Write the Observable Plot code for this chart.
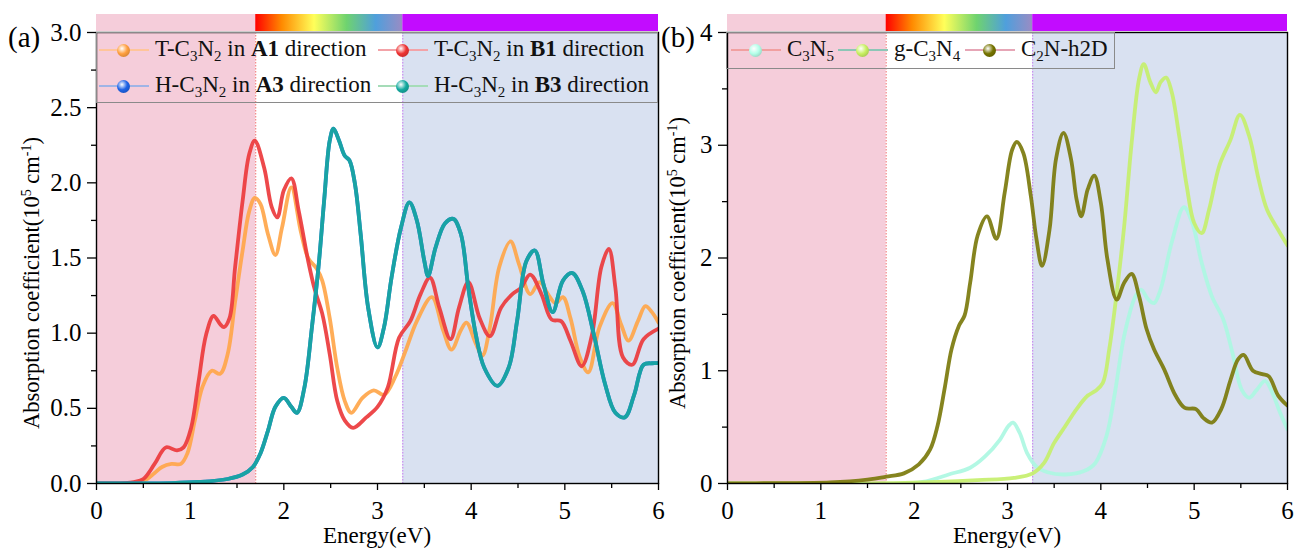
<!DOCTYPE html>
<html><head><meta charset="utf-8">
<script src="https://cdn.jsdelivr.net/npm/d3@7"></script>
<script src="https://cdn.jsdelivr.net/npm/@observablehq/plot@0.6"></script>
<style>
body{margin:0;background:#fff;font-family:"Liberation Serif","Times New Roman",serif;}
#wrap{position:relative;width:1295px;height:549px;overflow:hidden;background:#fff;}
.panel{position:absolute;top:0;}
.legend{position:absolute;border:1px solid #8a8a8a;box-sizing:border-box;}
.lline{position:absolute;height:1.5px;}
.ball{position:absolute;width:13px;height:13px;border-radius:50%;}
.ltext{position:absolute;font-size:23px;white-space:nowrap;line-height:23px;color:#111;font-family:"Liberation Serif","Times New Roman",serif;}
.ltext sub{font-size:15px;vertical-align:-5px;line-height:0;}
</style></head><body><div id="wrap"></div>
<script>
// ---------- data ----------
const energyTicks = [0, 1, 2, 3, 4, 5, 6];
const energyMinor = [0.5, 1.5, 2.5, 3.5, 4.5, 5.5];
const ticksA = [0, 0.5, 1, 1.5, 2, 2.5, 3];
const minorA = [0.25, 0.75, 1.25, 1.75, 2.25, 2.75];
const ticksB = [0, 1, 2, 3, 4];
const minorB = [0.5, 1.5, 2.5, 3.5];
const visibleRange = [1.7, 3.27];   // eV limits of visible light

// panel (a) : [energy eV, absorption 1e5 cm^-1]
const tA1 = [[0,0],[0.3,0.002],[0.45,0.01],[0.54,0.03],[0.62,0.07],[0.7,0.11],[0.8,0.13],[0.9,0.13],[0.97,0.2],[1.05,0.42],[1.13,0.64],[1.23,0.75],[1.32,0.73],[1.4,0.86],[1.48,1.21],[1.56,1.55],[1.63,1.81],[1.69,1.90],[1.75,1.86],[1.83,1.66],[1.91,1.52],[1.98,1.70],[2.08,1.97],[2.18,1.68],[2.26,1.50],[2.35,1.43],[2.41,1.35],[2.49,1.10],[2.57,0.77],[2.65,0.55],[2.72,0.47],[2.84,0.57],[2.96,0.62],[3.07,0.59],[3.19,0.71],[3.31,0.90],[3.42,1.08],[3.58,1.24],[3.70,1.02],[3.79,0.89],[3.89,1.02],[3.95,1.07],[4.05,0.93],[4.12,0.85],[4.20,1.04],[4.30,1.44],[4.42,1.61],[4.51,1.46],[4.63,1.26],[4.73,1.34],[4.82,1.26],[4.90,1.20],[4.98,1.24],[5.06,1.10],[5.16,0.84],[5.25,0.74],[5.37,1.04],[5.51,1.20],[5.60,1.06],[5.68,0.95],[5.78,1.08],[5.86,1.18],[5.93,1.14],[6.0,1.07]];
const tB1 = [[0,0],[0.3,0.003],[0.4,0.01],[0.5,0.03],[0.62,0.13],[0.74,0.24],[0.86,0.22],[0.93,0.24],[1.01,0.37],[1.09,0.68],[1.17,0.99],[1.25,1.115],[1.32,1.06],[1.36,1.04],[1.42,1.10],[1.48,1.44],[1.56,1.88],[1.63,2.19],[1.69,2.28],[1.79,2.10],[1.87,1.84],[1.93,1.77],[2.0,1.95],[2.08,2.03],[2.16,1.81],[2.26,1.48],[2.33,1.29],[2.41,1.13],[2.49,0.86],[2.57,0.55],[2.65,0.42],[2.74,0.37],[2.88,0.44],[3.0,0.51],[3.11,0.64],[3.23,0.97],[3.35,1.08],[3.46,1.26],[3.56,1.37],[3.66,1.17],[3.78,0.96],[3.87,1.17],[3.97,1.34],[4.09,1.10],[4.2,0.98],[4.32,1.17],[4.44,1.26],[4.53,1.30],[4.63,1.39],[4.75,1.26],[4.86,1.09],[4.96,1.08],[5.06,0.95],[5.18,0.78],[5.29,0.99],[5.39,1.44],[5.47,1.56],[5.54,1.30],[5.62,0.84],[5.72,0.79],[5.84,0.96],[6.0,1.03]];
const hB3 = [[0,0],[0.8,0.003],[1.09,0.01],[1.4,0.03],[1.56,0.06],[1.67,0.11],[1.75,0.20],[1.83,0.35],[1.91,0.51],[2.0,0.57],[2.08,0.51],[2.14,0.47],[2.22,0.64],[2.30,1.04],[2.37,1.44],[2.43,1.88],[2.49,2.28],[2.53,2.36],[2.59,2.28],[2.65,2.18],[2.70,2.15],[2.76,1.99],[2.82,1.66],[2.90,1.17],[3.0,0.905],[3.07,1.04],[3.15,1.37],[3.25,1.70],[3.34,1.87],[3.42,1.75],[3.50,1.48],[3.54,1.38],[3.62,1.57],[3.72,1.73],[3.81,1.76],[3.89,1.66],[3.97,1.30],[4.05,0.99],[4.14,0.77],[4.28,0.65],[4.40,0.77],[4.49,1.08],[4.59,1.48],[4.68,1.55],[4.77,1.33],[4.87,1.14],[4.98,1.35],[5.08,1.40],[5.19,1.28],[5.31,0.99],[5.43,0.66],[5.54,0.47],[5.64,0.44],[5.74,0.59],[5.84,0.79],[5.93,0.80],[6.0,0.80]];
const hA3 = hB3; // hidden beneath the B3 curve in the figure

// panel (b)
const c3n5 = [[0,0],[1.9,0.002],[2.13,0.02],[2.37,0.08],[2.6,0.14],[2.76,0.24],[2.92,0.39],[3.01,0.51],[3.06,0.54],[3.13,0.45],[3.21,0.27],[3.31,0.15],[3.43,0.10],[3.62,0.08],[3.82,0.11],[3.94,0.18],[4.06,0.42],[4.15,0.80],[4.25,1.31],[4.37,1.66],[4.43,1.72],[4.51,1.63],[4.57,1.60],[4.64,1.72],[4.76,2.14],[4.89,2.45],[4.98,2.31],[5.08,1.96],[5.19,1.66],[5.31,1.46],[5.41,1.16],[5.51,0.83],[5.59,0.76],[5.67,0.83],[5.76,0.91],[5.84,0.80],[5.92,0.63],[6.0,0.48]];
const gC3N4 = [[0,0],[1.5,0.002],[1.9,0.005],[2.68,0.03],[3.07,0.05],[3.27,0.09],[3.39,0.18],[3.5,0.36],[3.62,0.51],[3.74,0.66],[3.86,0.78],[3.94,0.82],[4.02,0.89],[4.09,1.19],[4.17,1.69],[4.25,2.28],[4.33,3.02],[4.41,3.59],[4.46,3.72],[4.53,3.56],[4.59,3.47],[4.64,3.56],[4.70,3.60],[4.76,3.47],[4.84,3.08],[4.92,2.64],[5.0,2.31],[5.08,2.22],[5.16,2.43],[5.27,2.82],[5.39,3.05],[5.49,3.27],[5.59,3.08],[5.69,2.70],[5.78,2.43],[5.90,2.25],[6.0,2.11]];
const c2nH2D = [[0,0],[0.5,0.003],[1.1,0.01],[1.5,0.035],[1.7,0.06],[1.89,0.09],[2.05,0.17],[2.17,0.30],[2.25,0.51],[2.33,0.86],[2.40,1.19],[2.48,1.40],[2.54,1.49],[2.60,1.78],[2.68,2.20],[2.78,2.37],[2.88,2.17],[2.97,2.58],[3.05,2.96],[3.10,3.03],[3.17,2.93],[3.25,2.55],[3.31,2.17],[3.37,1.93],[3.45,2.25],[3.52,2.88],[3.60,3.11],[3.68,2.88],[3.74,2.52],[3.79,2.37],[3.86,2.61],[3.93,2.73],[4.0,2.49],[4.07,1.99],[4.17,1.63],[4.25,1.78],[4.33,1.86],[4.41,1.66],[4.49,1.37],[4.57,1.19],[4.68,1.01],[4.80,0.78],[4.90,0.67],[5.02,0.66],[5.10,0.58],[5.19,0.54],[5.29,0.66],[5.39,0.92],[5.47,1.10],[5.53,1.14],[5.63,1.00],[5.73,0.97],[5.80,0.95],[5.90,0.78],[6.0,0.69]];

// ---------- styling ----------
const FONT = '"Liberation Serif", "Times New Roman", serif';
const PINK = "#f5cdda", BLUE = "#d9e1f1", PURPLE = "#c20cff";

const wrap = document.getElementById("wrap");

function buildPanel(cfg) {
  const [v1, v2] = visibleRange;
  const yMax = cfg.yDomain[1];
  const marks = [
    Plot.rect([0], {x1: 0, x2: v1, y1: 0, y2: yMax, fill: PINK}),
    Plot.rect([0], {x1: v2, x2: 6, y1: 0, y2: yMax, fill: BLUE}),
    Plot.ruleX([v1], {stroke: "#f07070", strokeWidth: 1, strokeDasharray: "1.5,1.5"}),
    Plot.ruleX([v2], {stroke: "#c77af0", strokeWidth: 1, strokeDasharray: "1.5,1.5"}),
  ];
  for (const s of cfg.series) {
    marks.push(Plot.line(s.data, {x: d => d[0], y: d => d[1], stroke: s.color, strokeWidth: 3.8, strokeOpacity: 0.92, curve: "catmull-rom", clip: true}));
  }
  marks.push(
    Plot.axisX(energyTicks, {tickSize: 7, tickPadding: 11, tickFormat: d => String(d), label: null, fontSize: 25, strokeWidth: 1.3}),
    Plot.axisX(energyMinor, {tickSize: 5, tickFormat: () => "", label: null, strokeWidth: 1.3}),
    Plot.axisY(cfg.yTicks, {tickSize: 9, tickPadding: 6, tickFormat: cfg.yFormat, label: null, fontSize: 25, strokeWidth: 1.3}),
    Plot.axisY(cfg.yMinor, {tickSize: 5, tickFormat: () => "", label: null, strokeWidth: 1.3}),
    Plot.frame({stroke: "#000", strokeWidth: 1.4})
  );
  const plot = Plot.plot({
    width: cfg.width, height: 549,
    marginTop: 32, marginBottom: 66, marginLeft: cfg.ml, marginRight: cfg.mr,
    style: {fontFamily: FONT, fontSize: "22px", color: "#000", background: "transparent", overflow: "visible"},
    x: {domain: [0, 6], label: null},
    y: {domain: cfg.yDomain, label: null},
    marks
  });
  const svg = d3.select(plot);
  const xs = plot.scale("x");
  const px = v => xs.apply(v);
  // spectrum strip above plot
  const defs = svg.append("defs");
  const grad = defs.append("linearGradient").attr("id", cfg.gradId).attr("x1", "0%").attr("x2", "100%");
  [["0%", "#ff0000"], ["18%", "#ff8a00"], ["40%", "#ffff5a"], ["62%", "#6fd36f"], ["82%", "#4f9fdc"], ["100%", "#9a8cc4"]]
    .forEach(([o, c]) => grad.append("stop").attr("offset", o).attr("stop-color", c));
  const top = 14, h = 17;
  svg.append("rect").attr("x", px(0)).attr("y", top).attr("width", px(v1) - px(0)).attr("height", h).attr("fill", PINK);
  svg.append("rect").attr("x", px(v1)).attr("y", top).attr("width", px(v2) - px(v1)).attr("height", h).attr("fill", `url(#${cfg.gradId})`);
  svg.append("rect").attr("x", px(v2)).attr("y", top).attr("width", px(6) - px(v2)).attr("height", h).attr("fill", PURPLE);
  // panel letter
  svg.append("text").attr("x", cfg.letterX).attr("y", 47).attr("text-anchor", "start").attr("font-size", 29).text(cfg.letter);
  // x label
  const cx = (cfg.ml + cfg.width - cfg.mr) / 2;
  svg.append("text").attr("x", cx).attr("y", 543).attr("text-anchor", "middle").attr("font-size", 23).text("Energy(eV)");
  // y label
  const yl = svg.append("text").attr("transform", `translate(${cfg.ylabelX},${cfg.ylabelY}) rotate(-90)`)
    .attr("text-anchor", "middle").attr("font-size", 22.5);
  yl.append("tspan").text("Absorption coefficient(10");
  yl.append("tspan").attr("dy", -8).attr("font-size", 14).text("5");
  yl.append("tspan").attr("dy", 8).text(" cm");
  yl.append("tspan").attr("dy", -8).attr("font-size", 14).text("-1");
  yl.append("tspan").attr("dy", 8).text(")");
  svg.attr("font-family", FONT);
  svg.selectAll("text").attr("font-family", FONT).attr("fill", "#000");
  const div = document.createElement("div");
  div.className = "panel";
  div.style.left = cfg.left + "px";
  div.appendChild(plot);
  wrap.appendChild(div);
}

buildPanel({
  left: 0, width: 660, ml: 96, mr: 2, yDomain: [0, 3], yTicks: ticksA, yMinor: minorA,
  yFormat: d3.format(".1f"), gradId: "specA", letter: "(a)", letterX: 8, ylabelX: 39, ylabelY: 283,
  series: [
    {data: tA1, color: "#ffa64a"},
    {data: tB1, color: "#ec3a3c"},
    {data: hA3, color: "#2166e0"},
    {data: hB3, color: "#17a79e"},
  ]
});
buildPanel({
  left: 660, width: 635, ml: 67, mr: 8, yDomain: [0, 4], yTicks: ticksB, yMinor: minorB,
  yFormat: d => String(d), gradId: "specB", letter: "(b)", letterX: 1, ylabelX: 25, ylabelY: 263,
  series: [
    {data: c3n5, color: "#adf7e2"},
    {data: gC3N4, color: "#c6ef6c"},
    {data: c2nH2D, color: "#7b7a0c"},
  ]
});

// ---------- legends ----------
function legend(box, items) {
  const lg = document.createElement("div");
  lg.className = "legend";
  Object.assign(lg.style, {left: box.left + "px", top: box.top + "px", width: box.width + "px", height: box.height + "px"});
  wrap.appendChild(lg);
  for (const it of items) {
    const line = document.createElement("div");
    line.className = "lline";
    Object.assign(line.style, {left: it.x + "px", top: (it.y - 1) + "px", width: "50px", background: it.line});
    wrap.appendChild(line);
    const ball = document.createElement("div");
    ball.className = "ball";
    Object.assign(ball.style, {left: (it.x + 18) + "px", top: (it.y - 6.5) + "px",
      background: `radial-gradient(circle at 38% 35%, #ffffff 0%, ${it.ball} 45%, ${d3.color(it.ball).darker(0.9)} 100%)`});
    wrap.appendChild(ball);
    const t = document.createElement("div");
    t.className = "ltext";
    t.style.left = (it.x + 56) + "px";
    t.style.top = (it.y - 13) + "px";
    t.innerHTML = it.html;
    wrap.appendChild(t);
  }
}
legend({left: 96, top: 32, width: 562, height: 71}, [
  {x: 99, y: 50, line: "#ffc59a", ball: "#ffa040", html: "T-C<sub>3</sub>N<sub>2</sub> in <b>A1</b> direction"},
  {x: 378, y: 50, line: "#f3a3a8", ball: "#ee3434", html: "T-C<sub>3</sub>N<sub>2</sub> in <b>B1</b> direction"},
  {x: 99, y: 86, line: "#9fb4e6", ball: "#1f63e6", html: "H-C<sub>3</sub>N<sub>2</sub> in <b>A3</b> direction"},
  {x: 378, y: 86, line: "#a5dcb8", ball: "#14aaa0", html: "H-C<sub>3</sub>N<sub>2</sub> in <b>B3</b> direction"},
]);
legend({left: 726, top: 32, width: 389, height: 37}, [
  {x: 731, y: 50, line: "#f1a0a0", ball: "#b4ffe9", html: "C<sub>3</sub>N<sub>5</sub>"},
  {x: 838, y: 50, line: "#8cc6b6", ball: "#c8f062", html: "g-C<sub>3</sub>N<sub>4</sub>"},
  {x: 965, y: 50, line: "#e6a6b6", ball: "#767400", html: "C<sub>2</sub>N-h2D"},
]);
</script></body></html>
